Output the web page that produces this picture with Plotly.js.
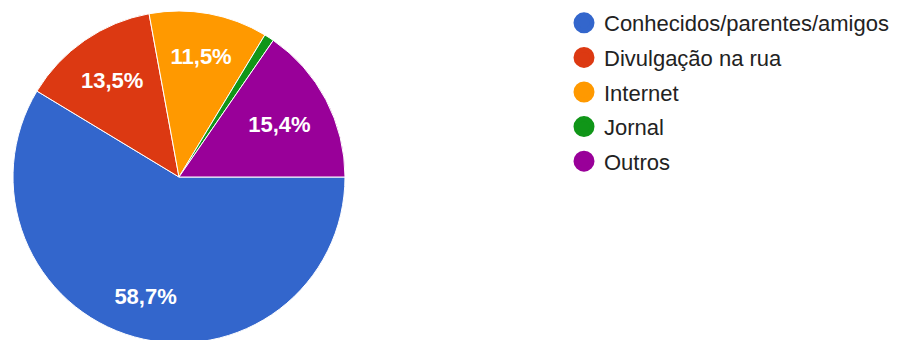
<!DOCTYPE html>
<html>
<head>
<meta charset="utf-8">
<script src="https://cdn.plot.ly/plotly-3.0.1.min.js"></script>
<style>
html, body { margin: 0; padding: 0; overflow: hidden; background: #fff; }
#chart { width: 915px; height: 346px; }
</style>
</head>
<body>
<div id="chart"></div>
<script>
// Data
const categories = ["Conhecidos/parentes/amigos", "Divulgação na rua", "Internet", "Jornal", "Outros"];
const counts = [61, 14, 12, 1, 16];
const colors = ["#3366cc", "#dc3912", "#ff9900", "#109618", "#990099"];
// which label is drawn by which layer (the large slice's label sits further out)
const labelOuter = [true, false, false, false, false];
const labelInner = [false, true, true, false, true];

const W = 915, H = 346;
const cx = 179, cy = 177, r = 166;
const dom = {
  x: [(cx - r) / W, (cx + r) / W],
  y: [(H - (cy + r)) / H, (H - (cy - r)) / H]
};
const labelFont = { family: "Arial, Liberation Sans, sans-serif", size: 22, color: "#ffffff", weight: "bold" };

const pie = {
  type: "pie",
  labels: categories,
  values: counts,
  sort: false,
  direction: "clockwise",
  rotation: 90,
  showlegend: false,
  marker: { colors: colors, line: { color: "#ffffff", width: 1 } },
  textposition: "inside",
  insidetextorientation: "horizontal",
  texttemplate: labelInner.map(s => s ? "%{percent:.1%}" : ""),
  textfont: labelFont,
  hoverinfo: "label+percent",
  domain: dom
};

// transparent ring layer carrying the label of the large slice
const pieLabels = {
  type: "pie",
  labels: categories,
  values: counts,
  sort: false,
  direction: "clockwise",
  rotation: 90,
  hole: 0.5,
  showlegend: false,
  marker: { colors: categories.map(() => "rgba(0,0,0,0)"), line: { width: 0 } },
  textposition: "inside",
  insidetextorientation: "horizontal",
  texttemplate: labelOuter.map(s => s ? "%{percent:.1%}" : ""),
  textfont: labelFont,
  hoverinfo: "skip",
  domain: dom
};

const legendTraces = categories.map((c, i) => ({
  type: "scatter",
  mode: "markers",
  x: [null], y: [null],
  name: c,
  legendgroup: "g" + i,
  marker: { color: colors[i], size: 16, symbol: "circle", line: { color: colors[i], width: 5 } },
  hoverinfo: "skip"
}));

const layout = {
  width: W, height: H,
  margin: { l: 0, r: 0, t: 0, b: 0 },
  paper_bgcolor: "#ffffff",
  plot_bgcolor: "#ffffff",
  separators: ",.",
  xaxis: { visible: false, domain: [0.6, 0.61] },
  yaxis: { visible: false, domain: [0.9, 0.91] },
  showlegend: true,
  legend: {
    x: 564 / W, xanchor: "left",
    y: 1 - 2 / H, yanchor: "top",
    font: { family: "Arial, Liberation Sans, sans-serif", size: 22, color: "#222222" },
    tracegroupgap: 3,
    itemsizing: "trace",
    bgcolor: "rgba(0,0,0,0)",
    borderwidth: 0
  }
};

Plotly.newPlot("chart", [pie, pieLabels].concat(legendTraces), layout, { staticPlot: true, displayModeBar: false });
</script>
</body>
</html>
